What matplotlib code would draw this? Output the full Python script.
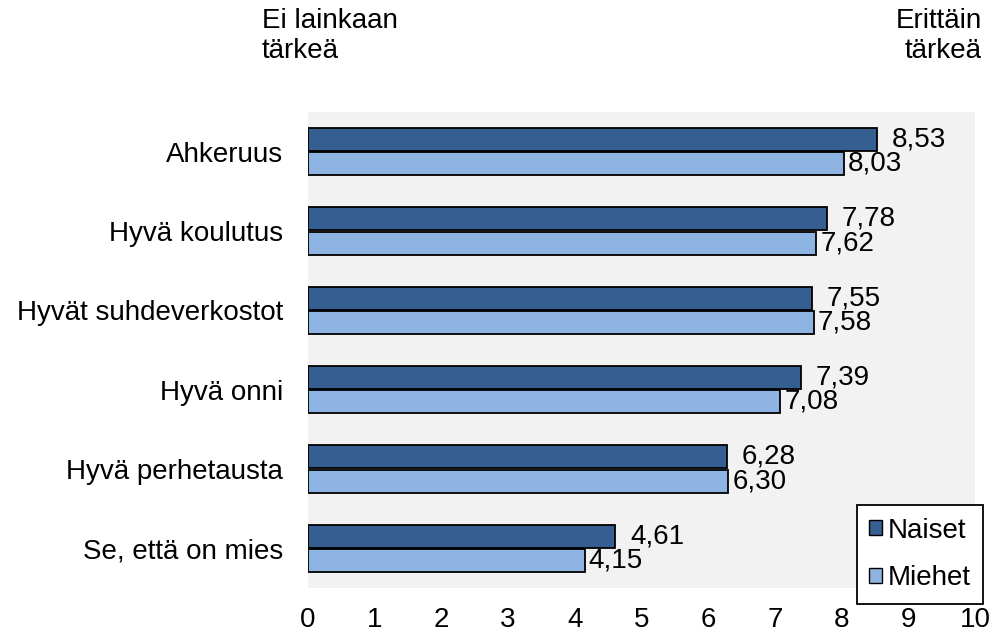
import matplotlib
matplotlib.use("Agg")
import matplotlib.pyplot as plt
import numpy as np

categories = ["Ahkeruus", "Hyvä koulutus", "Hyvät suhdeverkostot", "Hyvä onni",
              "Hyvä perhetausta", "Se, että on mies"]
naiset = [8.53, 7.78, 7.55, 7.39, 6.28, 4.61]
miehet = [8.03, 7.62, 7.58, 7.08, 6.30, 4.15]
xticks = list(range(0, 11))
series_names = ["Naiset", "Miehet"]

plt.rcParams['font.family'] = ['Liberation Sans', 'DejaVu Sans']

fig = plt.figure(figsize=(9.94, 6.35), dpi=100)
ax = fig.add_axes([308/994, 1-588/635, (975-308)/994, (588-112)/635])
ax.set_facecolor('#f2f2f2')

y = np.arange(len(categories))
h = 0.29
dark = '#365f91'
light = '#8db3e2'
b1 = ax.barh(y - h/2 - 0.01, naiset, height=h, color=dark, edgecolor='black', linewidth=1.3, label=series_names[0])
b2 = ax.barh(y + h/2 + 0.01, miehet, height=h, color=light, edgecolor='black', linewidth=1.3, label=series_names[1])

for yi, v in zip(y - h/2 - 0.01, naiset):
    ax.annotate(f"{v:.2f}".replace('.', ','), (v, yi), xytext=(15, 0), textcoords='offset pixels',
                va='center', ha='left', fontsize=20)
for yi, v in zip(y + h/2 + 0.01, miehet):
    ax.annotate(f"{v:.2f}".replace('.', ','), (v, yi), xytext=(4, 0), textcoords='offset pixels',
                va='center', ha='left', fontsize=20)

ax.set_xlim(0, 10)
ax.set_ylim(len(categories) - 0.5, -0.5)
ax.set_xticks(xticks)
ax.set_xticklabels([str(t) for t in xticks], fontsize=20)
ax.set_yticks(y)
ax.set_yticklabels(categories, fontsize=20)
ax.tick_params(length=0, pad=18, axis='y')
ax.tick_params(length=0, pad=14, axis='x')
for s in ax.spines.values():
    s.set_visible(False)

fig.text(262/994, 1-8/635, "Ei lainkaan\ntärkeä", ha='left', va='top', fontsize=20, linespacing=1.18)
fig.text(982/994, 1-8/635, "Erittäin\ntärkeä", ha='right', va='top', fontsize=20, linespacing=1.18)

leg = fig.legend(handles=[b1, b2], loc='upper right', bbox_to_anchor=(983/994, 1-505/635),
                 bbox_transform=fig.transFigure, fontsize=20, frameon=True, fancybox=False,
                 edgecolor='black', framealpha=1, borderaxespad=0, handlelength=0.45,
                 handleheight=0.45, handletextpad=0.2, labelspacing=0.78, borderpad=0.45)
leg.get_frame().set_linewidth(1.3)
for p in leg.get_patches():
    p.set_linewidth(1.0)

fig.savefig("out.png", dpi=100)
